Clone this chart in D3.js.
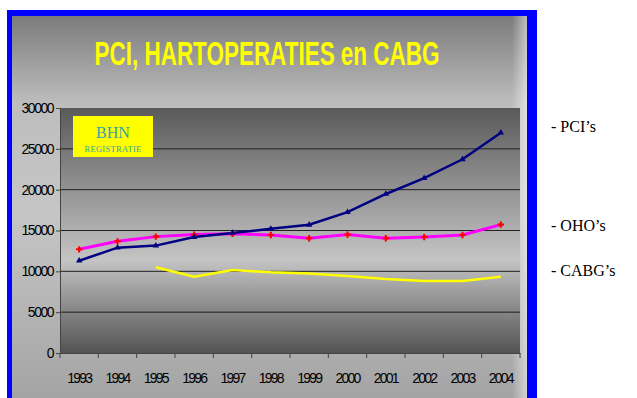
<!DOCTYPE html>
<html>
<head>
<meta charset="utf-8">
<script src="https://cdn.jsdelivr.net/npm/d3@7"></script>
<style>
  html, body { margin: 0; padding: 0; background: #fff; }
  svg { display: block; }
</style>
</head>
<body>
<svg id="chart" width="637" height="398"></svg>
<script>
// ---- data ----
const years = ["1993","1994","1995","1996","1997","1998","1999","2000","2001","2002","2003","2004"];
const pci   = [11300, 12900, 13150, 14200, 14700, 15200, 15700, 17250, 19470, 21400, 23720, 26980];
const oho   = [12700, 13680, 14250, 14500, 14600, 14450, 14050, 14500, 14050, 14200, 14450, 15720];
const cabg  = [null, null, 10500, 9350, 10170, 9880, 9720, 9430, 9060, 8820, 8820, 9350];
const yTicks = [0, 5000, 10000, 15000, 20000, 25000, 30000];
const title = "PCI, HARTOPERATIES en CABG";
const legendLabels = ["- PCI\u2019s", "- OHO\u2019s", "- CABG\u2019s"];

const svg = d3.select("#chart");
const defs = svg.append("defs");

// panel gradient
const pg = defs.append("linearGradient").attr("id","panelGrad").attr("x1",0).attr("y1",0).attr("x2",0).attr("y2",1);
[[0,"#7b7b7b"],[0.22,"#bdbdbd"],[0.5,"#c6c6c6"],[1,"#a2a2a2"]].forEach(([o,c]) => pg.append("stop").attr("offset",o).attr("stop-color",c));
// right light strip
const rg = defs.append("linearGradient").attr("id","rightGrad").attr("x1",0).attr("y1",0).attr("x2",1).attr("y2",0);
rg.append("stop").attr("offset",0).attr("stop-color","#ffffff").attr("stop-opacity",0);
rg.append("stop").attr("offset",1).attr("stop-color","#ffffff").attr("stop-opacity",0.5);
// plot gradient
const plg = defs.append("linearGradient").attr("id","plotGrad").attr("x1",0).attr("y1",0).attr("x2",0).attr("y2",1);
[[0,"#5a5a5a"],[0.62,"#c4c4c4"],[1,"#535353"]].forEach(([o,c]) => plg.append("stop").attr("offset",o).attr("stop-color",c));

// frame
svg.append("rect").attr("x",7).attr("y",10).attr("width",530).attr("height",400).attr("fill","#0000ff");
svg.append("rect").attr("x",12).attr("y",16).attr("width",515).attr("height",394).attr("fill","url(#panelGrad)");
svg.append("rect").attr("x",512).attr("y",16).attr("width",15).attr("height",394).attr("fill","url(#rightGrad)");

// title
svg.append("text")
  .attr("x", 267).attr("y", 65)
  .attr("text-anchor","middle")
  .attr("font-family","Liberation Sans, Arial, sans-serif")
  .attr("font-weight","bold")
  .attr("font-size", 34)
  .attr("fill","#ffff00")
  .attr("textLength", 345)
  .attr("lengthAdjust","spacingAndGlyphs")
  .text(title);

// scales
const x = d3.scaleBand().domain(years).range([60, 520]).padding(0);
const y = d3.scaleLinear().domain([0, 30000]).range([353, 108]);
const cx = d => x(d) + x.bandwidth()/2;

// plot area
svg.append("rect").attr("x",60).attr("y",108).attr("width",460).attr("height",245).attr("fill","url(#plotGrad)");

// gridlines
svg.append("g").selectAll("line").data(yTicks.filter(t => t > 0 && t < 30000)).join("line")
  .attr("x1",60).attr("x2",520).attr("y1",d=>y(d)).attr("y2",d=>y(d))
  .attr("stroke","#222").attr("stroke-width",1);

// y axis
const yAxis = svg.append("g").attr("transform","translate(60,0)")
  .call(d3.axisLeft(y).tickValues(yTicks).tickSize(4).tickPadding(3).tickFormat(d3.format("d")));
yAxis.select(".domain").attr("stroke","#444");
yAxis.selectAll(".tick line").attr("stroke","#444");
yAxis.selectAll("text")
  .attr("font-family","Liberation Sans, Arial, sans-serif")
  .attr("font-size",14).attr("letter-spacing","-1.5px").attr("fill","#000");

// x axis
const xAxis = svg.append("g").attr("transform","translate(0,353)")
  .call(d3.axisBottom(x).tickSize(0).tickPadding(20));
xAxis.select(".domain").attr("stroke","#444");
xAxis.selectAll("text")
  .attr("font-family","Liberation Sans, Arial, sans-serif")
  .attr("font-size",14).attr("letter-spacing","-1.8px").attr("fill","#000");
// boundary ticks
const bounds = years.map(d => x(d)).concat([x.range()[1]]);
svg.append("g").selectAll("line").data(bounds).join("line")
  .attr("x1",d=>d).attr("x2",d=>d).attr("y1",353).attr("y2",358)
  .attr("stroke","#444");

// BHN box
svg.append("rect").attr("x",73).attr("y",116).attr("width",80).attr("height",41).attr("fill","#ffff00");
svg.append("text").attr("x",113).attr("y",138).attr("text-anchor","middle")
  .attr("font-family","Liberation Serif, Times New Roman, serif").attr("font-size",16)
  .attr("fill","#33a3a8").text("BHN");
svg.append("text").attr("x",113).attr("y",152).attr("text-anchor","middle")
  .attr("font-family","Liberation Serif, Times New Roman, serif").attr("font-size",8.5)
  .attr("fill","#33a3a8").attr("letter-spacing","0.3px").text("REGISTRATIE");

// lines
const line = d3.line().defined(d => d.v != null).x(d => cx(d.k)).y(d => y(d.v));
const mk = arr => years.map((k,i) => ({k, v: arr[i]}));

svg.append("path").datum(mk(cabg)).attr("d", line)
  .attr("fill","none").attr("stroke","#ffff00").attr("stroke-width",2.5);
svg.append("path").datum(mk(oho)).attr("d", line)
  .attr("fill","none").attr("stroke","#ff00ff").attr("stroke-width",3);
svg.append("path").datum(mk(pci)).attr("d", line)
  .attr("fill","none").attr("stroke","#000080").attr("stroke-width",2.5);

// markers
svg.append("g").selectAll("path").data(mk(oho)).join("path")
  .attr("transform", d => `translate(${cx(d.k)},${y(d.v)})`)
  .attr("d", d3.symbol(d3.symbolCross, 22))
  .attr("fill","#ff0000");
svg.append("g").selectAll("path").data(mk(pci)).join("path")
  .attr("transform", d => `translate(${cx(d.k)},${y(d.v)})`)
  .attr("d", d3.symbol(d3.symbolTriangle, 18))
  .attr("fill","#000080");

// legend text
const legendY = [132, 231, 276];
svg.append("g").selectAll("text").data(legendLabels).join("text")
  .attr("x", 551).attr("y", (d,i) => legendY[i])
  .attr("font-family","Liberation Serif, Times New Roman, serif")
  .attr("font-size",16).attr("fill","#000")
  .text(d => d);
</script>
</body>
</html>
